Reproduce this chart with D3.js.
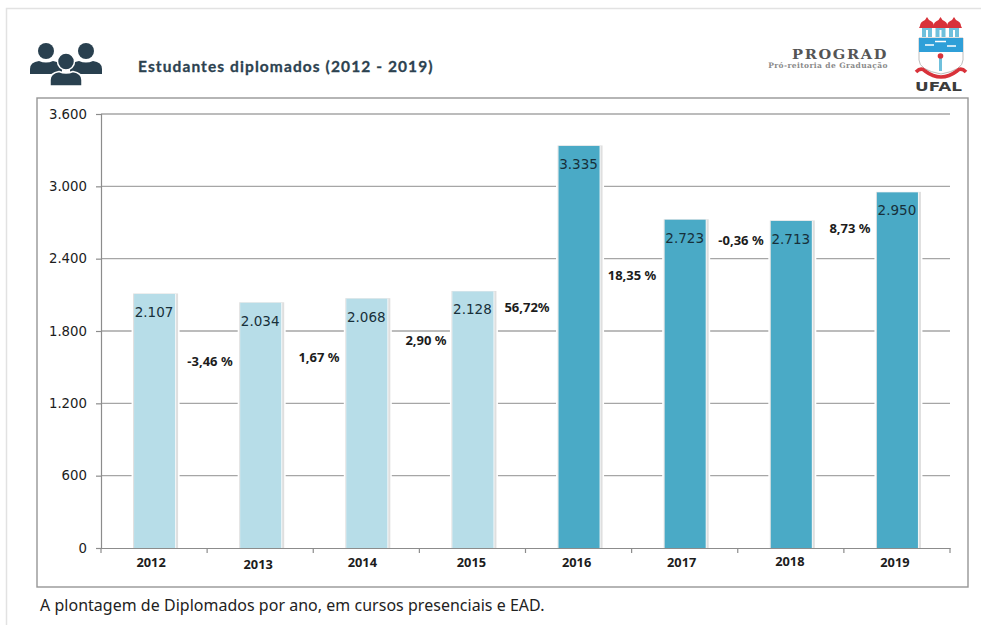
<!DOCTYPE html>
<html>
<head>
<meta charset="utf-8">
<script src="https://cdn.jsdelivr.net/npm/d3@7/dist/d3.min.js"></script>
<style>
  html, body { margin: 0; padding: 0; background: #fff; }
  svg { display: block; }
</style>
</head>
<body>
<svg id="chart" width="981" height="625"></svg>
<script>
const years = ["2012", "2013", "2014", "2015", "2016", "2017", "2018", "2019"];
const graduates = [2107, 2034, 2068, 2128, 3335, 2723, 2713, 2950];
const valueLabels = ["2.107", "2.034", "2.068", "2.128", "3.335", "2.723", "2.713", "2.950"];
const changeLabels = ["-3,46 %", "1,67 %", "2,90 %", "56,72%", "18,35 %", "-0,36 %", "8,73 %"];
const changeValues = [-3.46, 1.67, 2.90, 56.72, 18.35, -0.36, 8.73];
const yTicks = [0, 600, 1200, 1800, 2400, 3000, 3600];
const yTickLabels = ["0", "600", "1.200", "1.800", "2.400", "3.000", "3.600"];

// Hand placement of the labels between the bars and of the year labels.
const changeAnchors = [[210, 362], [319, 358], [426, 341], [527, 308], [632, 276], [741, 241], [850, 229]];
const yearNudge = [[-3, 1], [-2, 3], [-4, 1], [-1, 1], [-2, 1], [-3, 1], [-1, 0], [-2, 1]];

const svg = d3.select("#chart");
const plot = { left: 101, right: 950, top: 114, bottom: 548 };

const x = d3.scaleBand().domain(years).range([plot.left, plot.right]);
const y = d3.scaleLinear().domain([0, 3600]).range([plot.bottom, plot.top]);
const barWidth = 41;
const barLeft = d => x(d) + x.bandwidth() / 2 - barWidth / 2 + 0.5;

// Page card and chart frame
svg.append("path").attr("d", "M6.5,625V8.5H981").attr("fill", "none").attr("stroke", "#e2e2e2").attr("stroke-width", 1.5);
svg.append("rect").attr("x", 37).attr("y", 98).attr("width", 931).attr("height", 489)
  .attr("fill", "#fff").attr("stroke", "#969696").attr("stroke-width", 1.4);

// Gridlines
svg.append("g").selectAll("line").data(yTicks.filter(d => d > 0)).join("line")
  .attr("x1", plot.left).attr("x2", plot.right)
  .attr("y1", d => y(d)).attr("y2", d => y(d))
  .attr("stroke", "#a6a6a6").attr("stroke-width", 1.4);

// Bars: a white margin and soft right-hand shadow behind each bar, then the bar
const bars = svg.append("g").selectAll("g").data(years).join("g");
bars.append("rect")
  .attr("x", d => barLeft(d) - 2.5)
  .attr("width", barWidth + 7)
  .attr("y", (d, i) => y(graduates[i]) - 1.5)
  .attr("height", (d, i) => y(0) - y(graduates[i]) + 1.5)
  .attr("fill", "#fff");
bars.append("rect")
  .attr("x", d => barLeft(d) - 1)
  .attr("width", barWidth + 4)
  .attr("y", (d, i) => y(graduates[i]) - 0.5)
  .attr("height", (d, i) => y(0) - y(graduates[i]) + 0.5)
  .attr("fill", "#dfdfdf");
bars.append("rect")
  .attr("x", d => barLeft(d))
  .attr("width", barWidth + 1)
  .attr("y", (d, i) => y(graduates[i]))
  .attr("height", (d, i) => y(0) - y(graduates[i]))
  .attr("fill", "#f4f8f9");
bars.append("rect")
  .attr("x", d => barLeft(d))
  .attr("width", barWidth)
  .attr("y", (d, i) => y(graduates[i]))
  .attr("height", (d, i) => y(0) - y(graduates[i]))
  .attr("fill", (d, i) => i < 4 ? "#b7dde8" : "#4aaac6");

// Axes
const yAxis = svg.append("g").attr("transform", `translate(${plot.left},0)`)
  .call(d3.axisLeft(y).tickValues(yTicks).tickFormat((d, i) => yTickLabels[i]).tickSize(5).tickPadding(9));
const xAxis = svg.append("g").attr("transform", `translate(0,${plot.bottom})`)
  .call(d3.axisBottom(x).tickSize(0).tickPadding(9));
xAxis.selectAll(".tick").append("line")
  .attr("x1", -x.bandwidth() / 2).attr("x2", -x.bandwidth() / 2).attr("y2", 5);
xAxis.append("line").attr("x1", plot.right).attr("x2", plot.right).attr("y2", 5);
svg.selectAll(".domain, .tick line").attr("stroke", "#8c8c8c").attr("stroke-width", 1.2);
xAxis.selectAll("line").attr("stroke", "#8c8c8c").attr("stroke-width", 1.2);
yAxis.selectAll("text")
  .attr("font-family", "DejaVu Sans").attr("font-size", 13.3).attr("fill", "#1c1c1c");
xAxis.selectAll("text")
  .attr("font-family", "Noto Sans").attr("font-weight", 700).attr("font-size", 12.8).attr("fill", "#1c1c1c")
  .attr("transform", (d, i) => `translate(${yearNudge[i][0]},${yearNudge[i][1]})`);

// Value labels inside the bars
svg.append("g").selectAll("text").data(valueLabels).join("text")
  .attr("x", (d, i) => barLeft(years[i]) + barWidth / 2 - 0.5)
  .attr("y", (d, i) => y(graduates[i]) + 23)
  .attr("text-anchor", "middle")
  .attr("font-family", "DejaVu Sans").attr("font-size", 13.5).attr("fill", "#17303a")
  .text(d => d);

// Year-over-year change labels
svg.append("g").selectAll("text").data(changeLabels).join("text")
  .attr("data-change", (d, i) => changeValues[i])
  .attr("x", (d, i) => changeAnchors[i][0])
  .attr("y", (d, i) => changeAnchors[i][1] + 4)
  .attr("text-anchor", "middle")
  .attr("font-family", "Noto Sans").attr("font-weight", 700).attr("font-size", 13).attr("fill", "#1c1c1c")
  .text(d => d);

// Header: group icon and title
const icon = svg.append("g").attr("fill", "#29404f");
[46, 86].forEach(cx => {
  icon.append("circle").attr("cx", cx).attr("cy", 51).attr("r", 8);
  icon.append("path").attr("d", `M${cx - 16},74 v-5 q0,-7 9,-8 q7,3 14,0 q9,1 9,8 v5 z`);
});
icon.append("circle").attr("cx", 66).attr("cy", 61.5).attr("r", 8.5).attr("stroke", "#fff").attr("stroke-width", 1.5);
icon.append("path").attr("stroke", "#fff").attr("stroke-width", 1.5)
  .attr("d", "M50,86 v-6 q0,-7 9,-8.5 q7,3 14,0 q9,1.5 9,8.5 v6 z");

svg.append("text").attr("x", 138).attr("y", 72)
  .attr("font-family", "Lato").attr("font-weight", 700).attr("font-size", 15.5)
  .attr("letter-spacing", 1.1).attr("fill", "#2c4250")
  .attr("stroke", "#2c4250").attr("stroke-width", 0.3)
  .text("Estudantes diplomados (2012 - 2019)");

// Header: office name
svg.append("text").attr("transform", "translate(888,58.5) scale(1.17,1)").attr("text-anchor", "end")
  .attr("font-family", "DejaVu Serif").attr("font-weight", 700).attr("font-size", 12.5)
  .attr("letter-spacing", 1.4).attr("fill", "#555").text("PROGRAD");
svg.append("text").attr("x", 888).attr("y", 68).attr("text-anchor", "end")
  .attr("font-family", "DejaVu Serif").attr("font-weight", 700).attr("font-size", 7.5)
  .attr("letter-spacing", 0.4).attr("fill", "#8a8a8a").text("Pró-reitoria de Graduação");

// Header: university crest
const crest = svg.append("g");
[927, 940.5, 954].forEach(cx => {
  crest.append("path").attr("fill", "#d8323a")
    .attr("d", `M${cx},17 l2,3 q5,2 5,6 l1,2 h-16 l1,-2 q0,-4 5,-6 z`);
  crest.append("rect").attr("x", cx - 5).attr("y", 28).attr("width", 10).attr("height", 9).attr("fill", "#6fc0dc");
  crest.append("rect").attr("x", cx - 1).attr("y", 30).attr("width", 2).attr("height", 7).attr("fill", "#fff");
});
crest.append("path").attr("fill", "#fff").attr("stroke", "#bdbdbd").attr("stroke-width", 1)
  .attr("d", "M919,38 H963 V60 Q963,70 941,74 Q919,70 919,60 Z");
crest.append("rect").attr("x", 919).attr("y", 38).attr("width", 44).attr("height", 14).attr("fill", "#2f9fd8");
crest.append("path").attr("fill", "none").attr("stroke", "#fff").attr("stroke-width", 1.4)
  .attr("d", "M925,45 h9 M935,41.5 h11 M947,46 h9");
crest.append("rect").attr("x", 939).attr("y", 58).attr("width", 3).attr("height", 13).attr("fill", "#6fc0dc");
crest.append("circle").attr("cx", 940.5).attr("cy", 56).attr("r", 2.8).attr("fill", "#d8323a");
crest.append("path").attr("fill", "none").attr("stroke", "#d8323a").attr("stroke-width", 3.6)
  .attr("d", "M916,72 Q921,67 925,71 Q933,77 941,77 Q949,77 957,71 Q961,67 966,72");
svg.append("text").attr("transform", "translate(915,91) scale(1.3,1)")
  .attr("font-family", "DejaVu Sans").attr("font-weight", 700).attr("font-size", 13)
  .attr("fill", "#3c3c3c").text("UFAL");

// Caption under the frame
svg.append("text").attr("x", 40).attr("y", 611)
  .attr("font-family", "Noto Sans").attr("font-size", 15.95).attr("letter-spacing", 0.05).attr("fill", "#222")
  .text("A plontagem de Diplomados por ano, em cursos presenciais e EAD.");
</script>
</body>
</html>
